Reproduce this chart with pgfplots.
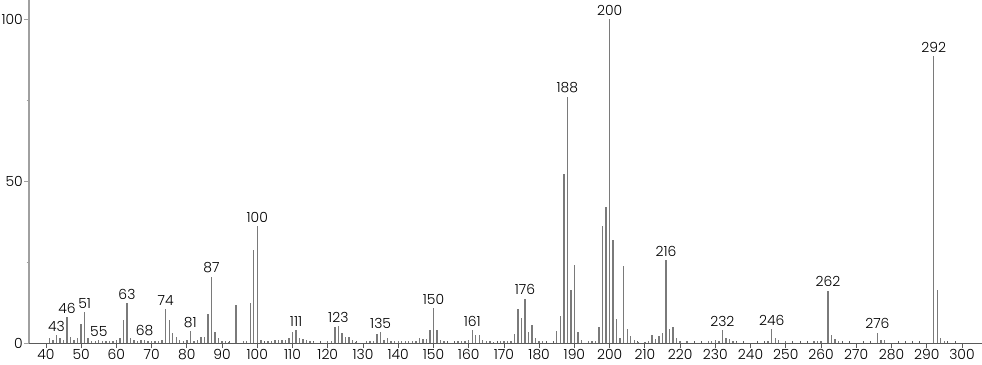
\documentclass[border=0pt]{standalone}
\usepackage{pgfplots}
\pgfplotsset{compat=1.18}
\usepackage{fontspec}
\setmainfont{Poppins Light}
\definecolor{bar}{HTML}{7A7A7A}
\definecolor{yax}{HTML}{A0A0A0}
\definecolor{xax}{HTML}{5A5A5A}
\begin{document}
\fontsize{14}{16}\selectfont
\begin{tikzpicture}
\begin{axis}[
  scale only axis, width=953bp, height=343bp,
  xmin=35.2, xmax=305.7, ymin=0, ymax=105.9,
  axis x line=bottom, axis y line=left,
  x axis line style={-, draw=xax, line width=0.8bp},
  y axis line style={-, draw=yax, line width=1.8bp},
  xtick={40,50,...,300}, minor x tick num=4,
  ytick={0,50,100}, minor ytick={25,75},
  tick align=outside, major tick length=5bp, minor tick length=2.5bp,
  x tick style={draw=xax, line width=0.7bp},
  minor x tick style={yshift=2.5bp},
  y tick style={draw=yax, line width=0.8bp},
  /pgf/number format/assume math mode=true,
  /pgf/number format/1000 sep={},
  tick label style={font=\fontsize{14}{16}\selectfont, text=black},
  xticklabel style={inner sep=1.5bp},
  yticklabel style={inner sep=1bp},
  every node near coord/.append style={font=\fontsize{14}{16}\selectfont, text=black, anchor=south, inner sep=0pt, yshift=3bp},
]
% unlabeled peaks
\addplot[ycomb, draw=bar, line width=1.4bp, mark=none] coordinates {
(41,1.5)(42,1)(44,1.5)(45,1)(47,2)(48,1)(49,1.5)(50,6)(52,1.5)(53,0.7)(54,0.7)(56,0.7)(57,0.7)(58,0.6)(59,0.6)(60,0.8)
(61,1.5)(62,7)(64,1.5)(65,1)(66,0.5)(67,0.8)(69,0.7)(70,0.6)(71,0.7)(72,0.6)(73,1)(75,7)(76,3)(77,2)(78,1)(79,0.5)(80,1)
(82,0.5)(83,1)(84,2)(85,1.7)(86,9)(88,3.5)(89,1.5)(90,0.7)(91,0.5)(92,0.3)(94,11.8)(96,0.5)(97,0.7)(98,12.4)(99,28.8)
(101,0.8)(103,0.7)(104,0.6)(105,0.8)(106,0.8)(107,1)(108,1)(109,1.5)(110,3.5)(112,1.5)(113,1.3)(114,1)(115,0.5)(116,0.3)
(120,0.6)(121,0.6)(122,5)(124,3)(125,2)(126,2)(127,1)(128,0.3)(131,0.6)(132,0.7)(133,0.7)(134,2.8)(136,1)(137,1.5)
(138,0.7)(139,0.6)(140,0.6)(141,0.6)(142,0.6)(143,0.6)(144,0.6)(145,0.7)(146,1.6)(147,1.2)(148,1.2)(149,4)(151,4)(152,1)(153,0.6)
(157,0.5)(158,0.6)(159,0.5)(160,0.8)(162,2.6)(163,2.6)(164,0.8)(165,0.5)(166,0.5)(167,0.3)(169,0.6)(170,0.5)(171,0.6)(172,0.6)
(173,2.7)(174,10.5)(175,7.6)(177,3.3)(178,5.5)(179,1.5)(180,0.7)(181,0.7)(185,3.6)(186,8.3)(187,52.2)(189,16.5)(190,24)
(191,3.5)(192,0.8)(194,0.5)(195,0.5)(196,0.5)(197,5)(198,36)(199,42)(201,31.8)(202,7.4)(203,1.5)(204,23.8)(205,4.4)(206,2.3)(207,0.8)(208,0.3)
(210,0.3)(211,0.6)(212,2.4)(213,1.2)(214,2.3)(215,3)(217,4.2)(218,5)(219,1.5)(220,0.5)(222,0.6)
(228,0.6)(229,0.6)(230,0.8)(231,0.7)(233,1.5)(234,1.3)(235,0.7)(236,0.4)(245,0.7)(247,1.5)(248,1)(250,0.6)
(258,0.5)(259,0.7)(260,0.5)(263,2.6)(264,1.3)(265,0.5)(277,1)(278,0.8)(293,16.3)(294,1.5)(295,0.7)
};
% labeled peaks
\addplot[ycomb, draw=bar, line width=1.4bp, mark=none, point meta=x, nodes near coords] coordinates {
(43,2.5)(46,8)(51,9.5)(55,0.8)(63,12.3)(68,1)(74,10.5)(81,3.7)(87,20.5)(100,36)(111,4)(123,5.2)(135,3.4)(150,10.8)
(161,4)(176,13.7)(188,76.1)(200,100)(216,25.5)(232,4)(246,4.4)(262,16.2)(276,3.2)(292,88.5)
};
\end{axis}
\pgfresetboundingbox
\path ([xshift=-29bp,yshift=-22bp]current axis.south west) rectangle (current axis.north east);
\end{tikzpicture}
\end{document}
